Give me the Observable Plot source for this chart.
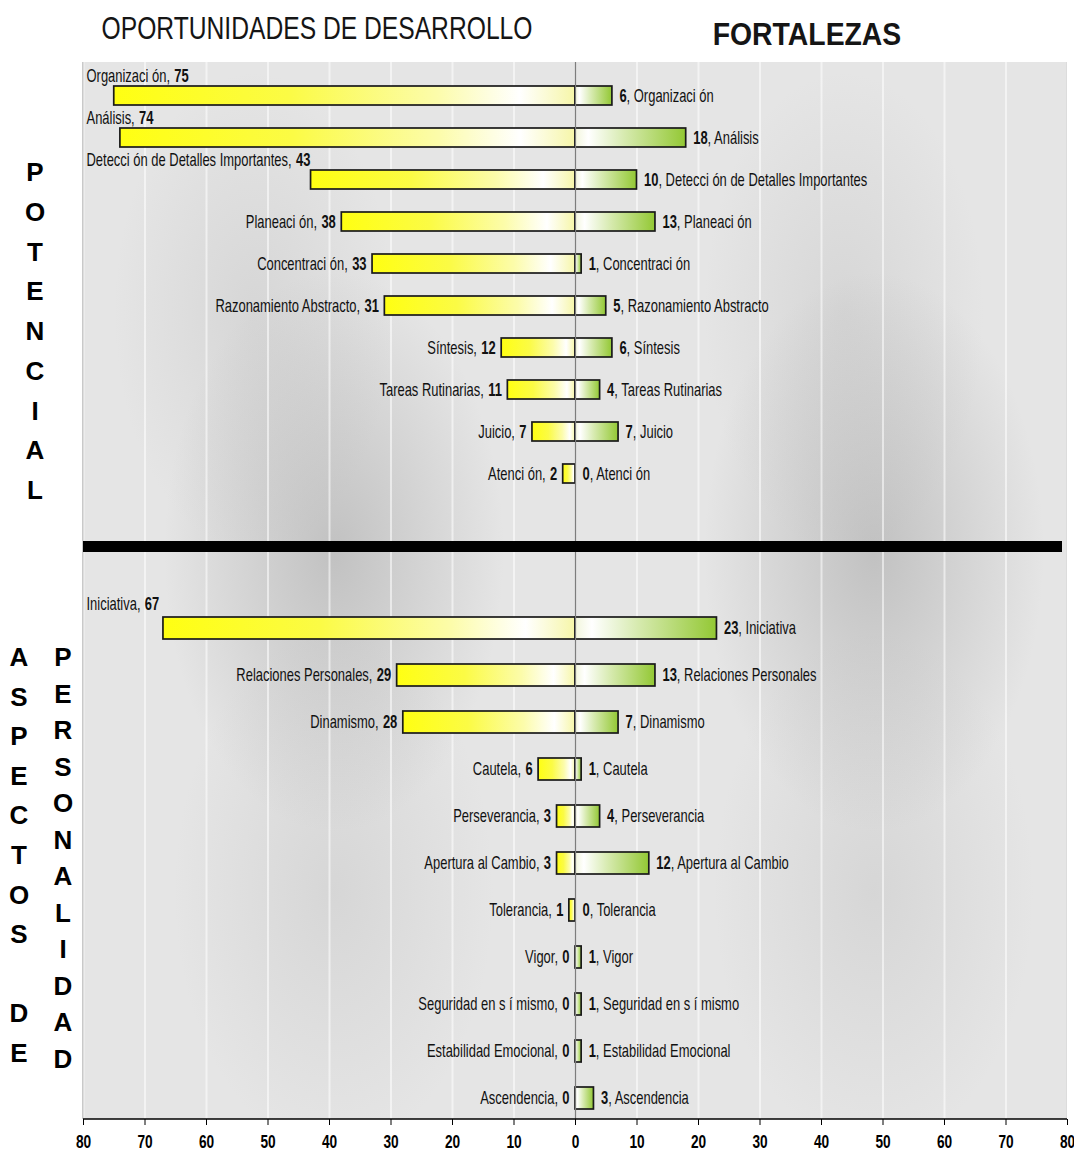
<!DOCTYPE html>
<html><head><meta charset="utf-8">
<script src="https://cdn.jsdelivr.net/npm/d3@7"></script>
<script src="https://cdn.jsdelivr.net/npm/@observablehq/plot@0.6"></script>
<style>
body{margin:0;background:#fff;}
#wrap{position:relative;width:1074px;height:1154px;overflow:hidden;font-family:"Liberation Sans",Arial,sans-serif;}
.title{position:absolute;white-space:nowrap;color:#151515;line-height:1;}
.vl{position:absolute;font-family:"Liberation Sans",Arial,sans-serif;font-weight:bold;font-size:26px;line-height:1;transform:translate(-50%,-50%);color:#000;}
#bg{position:absolute;left:82px;top:62px;width:985px;height:1057px;border-left:2px solid #b5b5b5;border-right:1px solid #cfcfcf;box-sizing:border-box;
 background:
 radial-gradient(ellipse 170px 280px at 250px 490px, rgba(150,150,150,.45), rgba(150,150,150,0) 100%),
 radial-gradient(ellipse 170px 280px at 790px 490px, rgba(150,150,150,.45), rgba(150,150,150,0) 100%),
 radial-gradient(ellipse 140px 240px at 170px 250px, rgba(170,170,170,.25), rgba(170,170,170,0) 100%),
 radial-gradient(ellipse 140px 240px at 760px 250px, rgba(170,170,170,.25), rgba(170,170,170,0) 100%),
 radial-gradient(ellipse 160px 260px at 250px 830px, rgba(170,170,170,.25), rgba(170,170,170,0) 100%),
 radial-gradient(ellipse 160px 260px at 790px 830px, rgba(170,170,170,.25), rgba(170,170,170,0) 100%),
 #e5e5e5;}
#sep{position:absolute;left:83px;top:541px;width:979px;height:11px;background:#000;}
</style>
</head><body>
<svg width="0" height="0" style="position:absolute">
 <defs>
  <linearGradient id="gradOport" x1="0" y1="0" x2="1" y2="0">
   <stop offset="0" stop-color="#ffff12"/>
   <stop offset="0.38" stop-color="#fbfb45"/>
   <stop offset="0.7" stop-color="#fcfcaa"/>
   <stop offset="0.88" stop-color="#ffffff"/>
   <stop offset="1" stop-color="#f6f6a8"/>
  </linearGradient>
  <linearGradient id="gradFort" x1="0" y1="0" x2="1" y2="0">
   <stop offset="0" stop-color="#f2f6dc"/>
   <stop offset="0.12" stop-color="#ffffff"/>
   <stop offset="0.45" stop-color="#d6eaae"/>
   <stop offset="1" stop-color="#93c834"/>
  </linearGradient>
 </defs>
</svg>
<div id="wrap">
 <div id="bg"></div>
 <div class="title" style="left:317px;top:13px;font-size:31px;transform:translateX(-50%) scaleX(0.795);">OPORTUNIDADES DE DESARROLLO</div>
 <div class="title" style="left:807px;top:19px;font-size:31px;font-weight:bold;transform:translateX(-50%) scaleX(0.915);">FORTALEZAS</div>
</div>
<script>
// ---- data ----
const potencialCats = ["Organizaci ón","Análisis","Detecci ón de Detalles Importantes","Planeaci ón","Concentraci ón","Razonamiento Abstracto","Síntesis","Tareas Rutinarias","Juicio","Atenci ón"];
const potencialOport = [75,74,43,38,33,31,12,11,7,2];
const potencialFort = [6,18,10,13,1,5,6,4,7,0];

const personalidadCats = ["Iniciativa","Relaciones Personales","Dinamismo","Cautela","Perseverancia","Apertura al Cambio","Tolerancia","Vigor","Seguridad en s í mismo","Estabilidad Emocional","Ascendencia"];
const personalidadOport = [67,29,28,6,3,3,1,0,0,0,0];
const personalidadFort = [23,13,7,1,4,12,0,1,1,1,3];

const xDomain = [-80, 80];
const xTicks = [-80,-70,-60,-50,-40,-30,-20,-10,0,10,20,30,40,50,60,70,80];

const sideTitles = [
  {text: "POTENCIAL", x: 35, y0: 172, step: 39.75},
  {text: "ASPECTOS DE", x: 19, y0: 657, step: 39.6},
  {text: "PERSONALIDAD", x: 63, y0: 657, step: 36.5}
];
// --------------

const wrap = document.getElementById("wrap");
for (const s of sideTitles) {
  [...s.text].forEach((ch, i) => {
    if (ch === " ") return;
    const d = document.createElement("div");
    d.className = "vl";
    d.textContent = ch;
    d.style.left = s.x + "px";
    d.style.top = (s.y0 + i * s.step) + "px";
    wrap.appendChild(d);
  });
}

const FONT = '"Liberation Sans",Arial,sans-serif';

// make the number part of each bar label bold
function boldify(svg) {
  svg.querySelectorAll("text").forEach(el => {
    const t = el.textContent;
    const sel = d3.select(el);
    let m;
    if ((m = t.match(/^(.*,) (\d+)$/))) {
      sel.text("");
      sel.append("tspan").attr("font-weight", "normal").text(m[1]);
      sel.append("tspan").attr("font-weight", "bold").attr("dx", 6).text(m[2]);
    } else if ((m = t.match(/^(\d+)(, .*)$/))) {
      sel.text("");
      sel.append("tspan").attr("font-weight", "bold").text(m[1]);
      sel.append("tspan").attr("font-weight", "normal").text(m[2]);
    }
  });
}

function condense(svg, s) {
  svg.querySelectorAll("text").forEach(t => {
    const tr = t.getAttribute("transform") || "";
    const x = t.getAttribute("x");
    if (x != null) t.setAttribute("x", (+x) / s);
    t.setAttribute("transform", (tr + ` scale(${s},1)`).trim());
  });
}

function panel(cats, oport, fort, opt) {
  const rows = cats.map((c, i) => ({cat: c, oport: oport[i], fort: fort[i]}));
  const marks = [
    Plot.ruleX(xTicks.filter(d => d !== 0), {stroke: "#ffffff", strokeOpacity: 0.55, strokeWidth: 2}),
    Plot.barX(rows.filter(d => d.oport > 0), {y: "cat", x1: d => -d.oport, x2: 0, fill: "url(#gradOport)", stroke: "#1a1a1a", strokeWidth: 1.7}),
    Plot.barX(rows.filter(d => d.fort > 0), {y: "cat", x1: 0, x2: "fort", fill: "url(#gradFort)", stroke: "#1a1a1a", strokeWidth: 1.7}),
    Plot.ruleX([0], {stroke: "#7d7d7d", strokeWidth: 1.2}),
    Plot.text(rows.filter(d => d.oport < 40), {y: "cat", x: d => -d.oport, text: d => `${d.cat}, ${d.oport}`, textAnchor: "end", dx: -6, fontWeight: "normal", fontSize: 18, fill: "#111"}),
    Plot.text(rows.filter(d => d.oport >= 40), {y: "cat", frameAnchor: "left", text: d => `${d.cat}, ${d.oport}`, textAnchor: "start", dx: 3, dy: opt.aboveDy, fontWeight: "normal", fontSize: 18, fill: "#111"}),
    Plot.text(rows, {y: "cat", x: "fort", text: d => `${d.fort}, ${d.cat}`, textAnchor: "start", dx: 7, fontWeight: "normal", fontSize: 18, fill: "#111"})
  ];
  if (opt.axis) {
    marks.push((index, scales, values, dim) => {
      return d3.create("svg:line")
        .attr("x1", dim.marginLeft).attr("x2", dim.width - dim.marginRight)
        .attr("y1", dim.height - dim.marginBottom).attr("y2", dim.height - dim.marginBottom)
        .attr("stroke", "#000").attr("stroke-width", 1.6).node();
    });
  }
  const svg = Plot.plot({
    width: 1074,
    height: opt.height,
    marginLeft: 83,
    marginRight: 7,
    marginTop: 0,
    marginBottom: opt.marginBottom,
    x: {domain: xDomain, ticks: xTicks, tickFormat: d => Math.abs(d), tickSize: 6, tickPadding: 9, label: null, axis: opt.axis ? "bottom" : null},
    y: {domain: cats, range: opt.yRange, paddingInner: opt.padding, paddingOuter: opt.padding / 2, axis: null},
    style: {fontFamily: FONT, fontSize: "19px", fontWeight: "bold", background: "transparent", overflow: "visible", color: "#000"},
    marks
  });
  boldify(svg);
  condense(svg, 0.72);
  svg.style.position = "absolute";
  svg.style.left = "0px";
  svg.style.top = opt.top + "px";
  return svg;
}

wrap.appendChild(panel(potencialCats, potencialOport, potencialFort, {
  top: 62, height: 483, marginBottom: 0, yRange: [11.4, 434.1], padding: 0.55, aboveDy: -20, axis: false
}));
wrap.appendChild(panel(personalidadCats, personalidadOport, personalidadFort, {
  top: 545, height: 609, marginBottom: 35, yRange: [59.5, 576.5], padding: 0.53, aboveDy: -24, axis: true
}));
const sep = document.createElement("div");
sep.id = "sep";
wrap.appendChild(sep);
</script>
</body></html>
